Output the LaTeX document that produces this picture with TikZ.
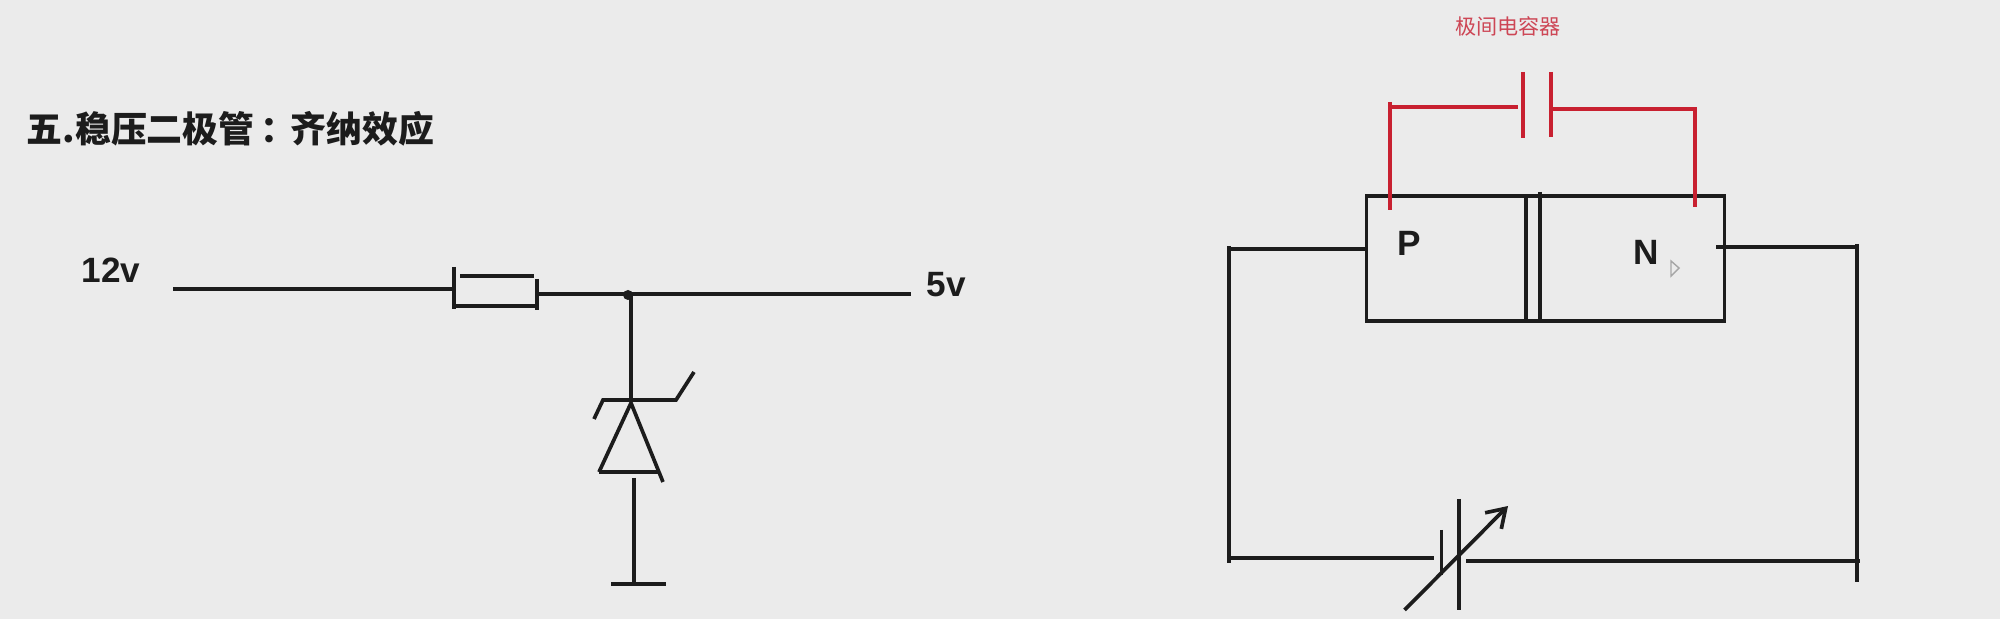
\documentclass[tikz,border=0pt]{standalone}
\usepackage{fontspec}
\setmainfont{Liberation Sans}
\newfontfamily\cjk{Noto Sans CJK SC}
\usetikzlibrary{arrows.meta}
\definecolor{pagegray}{RGB}{235,235,235}
\definecolor{wirecol}{RGB}{28,28,28}
\definecolor{capred}{RGB}{200,32,48}
\definecolor{labelred}{RGB}{205,70,85}

\begin{document}
\begin{tikzpicture}[
    x=0.01cm,
    y=-0.01cm,
    wire/.style={draw=wirecol,line width=1.05pt},
    thinwire/.style={draw=wirecol,line width=0.9pt},
    redwire/.style={draw=capred,line width=1.05pt},
    volt/.style={font=\fontsize{10}{12}\selectfont\bfseries,text=wirecol,inner sep=0pt},
    >={Straight Barb[length=5pt,width=6.5pt]}
]
\fill[pagegray] (0,0) rectangle (2000,619);
\useasboundingbox (0,0) rectangle (2000,619);

% Title
\node[font=\cjk\fontsize{10.2}{12}\selectfont\bfseries,text=wirecol,anchor=west,inner sep=0pt] (title) at (26,129) {五.稳压二极管\kern0.18em：\kern-0.18em齐纳效应};

% Left circuit, labels
\node[volt] (vin) at (111,270) {12v};
\node[volt] (vout) at (946,285) {5v};

% Left circuit, points
\coordinate (inl) at (173,289);
\coordinate (inr) at (454,289);
\coordinate (rtop) at (454,267);
\coordinate (rbot) at (454,309);
\coordinate (rat) at (460,276);
\coordinate (rab) at (534,276);
\coordinate (rbt) at (455,306);
\coordinate (rbb) at (537,306);
\coordinate (rrt) at (537,279);
\coordinate (rrb) at (537,310);
\coordinate (outl) at (537,294);
\coordinate (outr) at (911,294);
\coordinate (junc) at (631,294);
\coordinate (barl) at (603,400);
\coordinate (barc) at (631,400);
\coordinate (barr) at (676,400);
\coordinate (tickr) at (694,372);
\coordinate (tickl) at (594,419);
\coordinate (apex) at (631,403);
\coordinate (basel) at (599,472);
\coordinate (baser) at (658,472);
\coordinate (legr) at (663,482);
\coordinate (gndt) at (634,478);
\coordinate (gndc) at (634,584);
\coordinate (gndl) at (611,584);
\coordinate (gndr) at (666,584);

% Wires and resistor
\draw[wire] (inl) -- (inr);
\draw[thinwire] (rtop) -- (rbot);
\draw[wire] (rat) -- (rab);
\draw[wire] (rbt) -- (rbb);
\draw[wire] (rrt) -- (rrb);
\draw[wire] (outl) -- (outr);
\fill[wirecol] (628,295) circle (5);

% Zener diode
\draw[thinwire] (junc) -- (barc);
\draw[wire] (tickl) -- (barl) -- (barr) -- (tickr);
\draw[wire] (basel) -- (apex) -- (legr);
\draw[wire] (basel) -- (baser);
\draw[thinwire] (gndt) -- (gndc);
\draw[wire] (gndl) -- (gndr);

% Right circuit, PN block
\node[wire,minimum width=3.58cm,minimum height=1.25cm,inner sep=0pt,outer sep=0pt] (pn) at (1545.5,258.5) {};
\node[volt] (plabel) at (1409,243) {P};
\node[volt] (nlabel) at (1646,252) {N};
\coordinate (mida) at (1526,196);
\coordinate (midb) at (1526,321);
\coordinate (midc) at (1540,192);
\coordinate (midd) at (1540,321);
\draw[wire] (mida) -- (midb);
\draw[wire] (midc) -- (midd);

% Cursor mark
\draw[draw=gray!70,line width=0.4pt] (1671,261) -- (1679,268) -- (1671,276) -- cycle;

% Capacitor across the block
\node[font=\cjk\fontsize{6}{7}\selectfont,text=labelred,inner sep=0pt] (caplabel) at (1508,26) {极间电容器};
\coordinate (ctl) at (1390,102);
\coordinate (cbl) at (1390,210);
\coordinate (cml) at (1390,107);
\coordinate (cpl) at (1518,107);
\coordinate (cplat) at (1523,72);
\coordinate (cplab) at (1523,138);
\coordinate (cprat) at (1551,72);
\coordinate (cprab) at (1551,137);
\coordinate (cpr) at (1553,109);
\coordinate (cmr) at (1695,109);
\coordinate (cbr) at (1695,207);
\draw[redwire] (ctl) -- (cbl);
\draw[redwire] (cml) -- (cpl);
\draw[redwire] (cplat) -- (cplab);
\draw[redwire] (cprat) -- (cprab);
\draw[redwire] (cpr) -- (cmr) -- (cbr);

% Outer loop
\coordinate (pw) at (1366,249);
\coordinate (lt) at (1229,249);
\coordinate (ltop) at (1229,246);
\coordinate (lbot) at (1229,563);
\coordinate (lb) at (1229,558);
\coordinate (bl) at (1434,558);
\coordinate (nw) at (1716,247);
\coordinate (rt) at (1857,247);
\coordinate (rtopw) at (1857,244);
\coordinate (rbotw) at (1857,582);
\coordinate (br) at (1466,561);
\coordinate (rb) at (1860,561);
\draw[wire] (pw) -- (lt);
\draw[wire] (ltop) -- (lbot);
\draw[wire] (lb) -- (bl);
\draw[wire] (nw) -- (rt);
\draw[wire] (rtopw) -- (rbotw);
\draw[wire] (br) -- (rb);

% Variable source
\coordinate (srca) at (1441.5,530);
\coordinate (srcb) at (1441.5,575);
\coordinate (srcc) at (1459,499);
\coordinate (srcd) at (1459,610);
\coordinate (arra) at (1404.5,610);
\coordinate (arrb) at (1508,506);
\draw[thinwire] (srca) -- (srcb);
\draw[thinwire] (srcc) -- (srcd);
\draw[wire,->] (arra) -- (arrb);

\end{tikzpicture}
\end{document}
